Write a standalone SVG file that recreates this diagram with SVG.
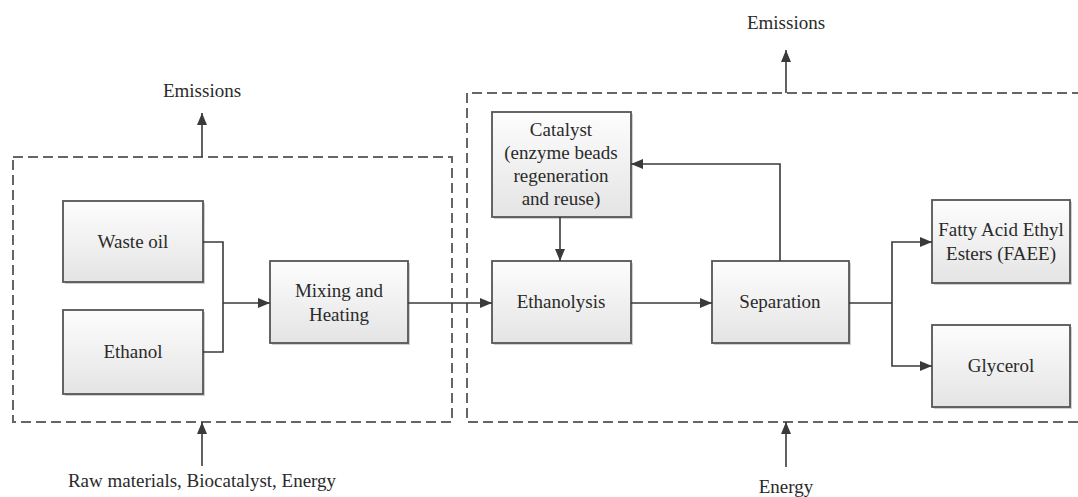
<svg xmlns="http://www.w3.org/2000/svg" width="1078" height="497" viewBox="0 0 1078 497">
<defs>
<linearGradient id="boxfill" x1="0" y1="0" x2="0" y2="1">
<stop offset="0" stop-color="#fdfdfd"/>
<stop offset="1" stop-color="#e4e4e4"/>
</linearGradient>
<marker id="arr" viewBox="0 0 12 10" refX="12" refY="5" markerWidth="12" markerHeight="10" markerUnits="userSpaceOnUse" orient="auto">
<path d="M0,0 L12,5 L0,10 z" fill="#3a3a3a"/>
</marker>
</defs>
<style>
.box{fill:url(#boxfill);stroke:#555;stroke-width:1.8}
.shadow{fill:#cfcfcf}
.dash{fill:none;stroke:#666;stroke-width:2;stroke-dasharray:10 5}
.line{fill:none;stroke:#3a3a3a;stroke-width:1.6}
.arrow{fill:none;stroke:#3a3a3a;stroke-width:1.6;marker-end:url(#arr)}
text{font-family:"Liberation Serif","Times New Roman",serif;font-size:19px;fill:#2a2a2a;text-anchor:middle}
</style>
<rect width="1078" height="497" fill="#fff"/>

<g id="boundaries">
<rect class="dash" x="13" y="157" width="439" height="265"/>
<path class="dash" d="M1082,93 L467,93 L467,422 L1082,422"/>
</g>

<g id="waste-oil">
<rect class="shadow" x="65" y="203" width="140" height="81"/>
<rect class="box" x="63" y="201" width="140" height="81"/>
<text x="133" y="248">Waste oil</text>
</g>
<g id="ethanol">
<rect class="shadow" x="65" y="312" width="140" height="84"/>
<rect class="box" x="63" y="310" width="140" height="84"/>
<text x="133" y="358">Ethanol</text>
</g>
<g id="mixing">
<rect class="shadow" x="272" y="263" width="138" height="82"/>
<rect class="box" x="270" y="261" width="138" height="82"/>
<text x="339" y="297">Mixing and</text>
<text x="339" y="321">Heating</text>
</g>
<g id="catalyst">
<rect class="shadow" x="494" y="114" width="139" height="105"/>
<rect class="box" x="492" y="112" width="139" height="105"/>
<text x="561" y="136">Catalyst</text>
<text x="561" y="159">(enzyme beads</text>
<text x="561" y="182">regeneration</text>
<text x="561" y="205">and reuse)</text>
</g>
<g id="ethanolysis">
<rect class="shadow" x="494" y="263" width="139" height="82"/>
<rect class="box" x="492" y="261" width="139" height="82"/>
<text x="561" y="308">Ethanolysis</text>
</g>
<g id="separation">
<rect class="shadow" x="714" y="263" width="137" height="82"/>
<rect class="box" x="712" y="261" width="137" height="82"/>
<text x="780" y="308">Separation</text>
</g>
<g id="faee">
<rect class="shadow" x="934" y="202" width="138" height="83"/>
<rect class="box" x="932" y="200" width="138" height="83"/>
<text x="1001" y="236">Fatty Acid Ethyl</text>
<text x="1001" y="260">Esters (FAEE)</text>
</g>
<g id="glycerol">
<rect class="shadow" x="934" y="327" width="138" height="82"/>
<rect class="box" x="932" y="325" width="138" height="82"/>
<text x="1001" y="372">Glycerol</text>
</g>

<g id="labels">
<text x="202" y="97">Emissions</text>
<text x="786" y="29">Emissions</text>
<text x="202" y="487">Raw materials, Biocatalyst, Energy</text>
<text x="786" y="493">Energy</text>
</g>

<g id="connectors">
<path class="line" d="M203,242 H223 V352 H203"/>
<path class="arrow" d="M223,303 H270"/>
<path class="arrow" d="M408,303 H492"/>
<path class="arrow" d="M560,217 V261"/>
<path class="arrow" d="M631,303 H712"/>
<path class="arrow" d="M780,261 V164 H631"/>
<path class="line" d="M849,303 H892"/>
<path class="arrow" d="M892,303 V242 H932"/>
<path class="arrow" d="M892,303 V366 H932"/>
<path class="arrow" d="M202,157 V113"/>
<path class="arrow" d="M786,93 V50"/>
<path class="arrow" d="M202,466 V422"/>
<path class="arrow" d="M786,467 V422"/>
</g>
</svg>
